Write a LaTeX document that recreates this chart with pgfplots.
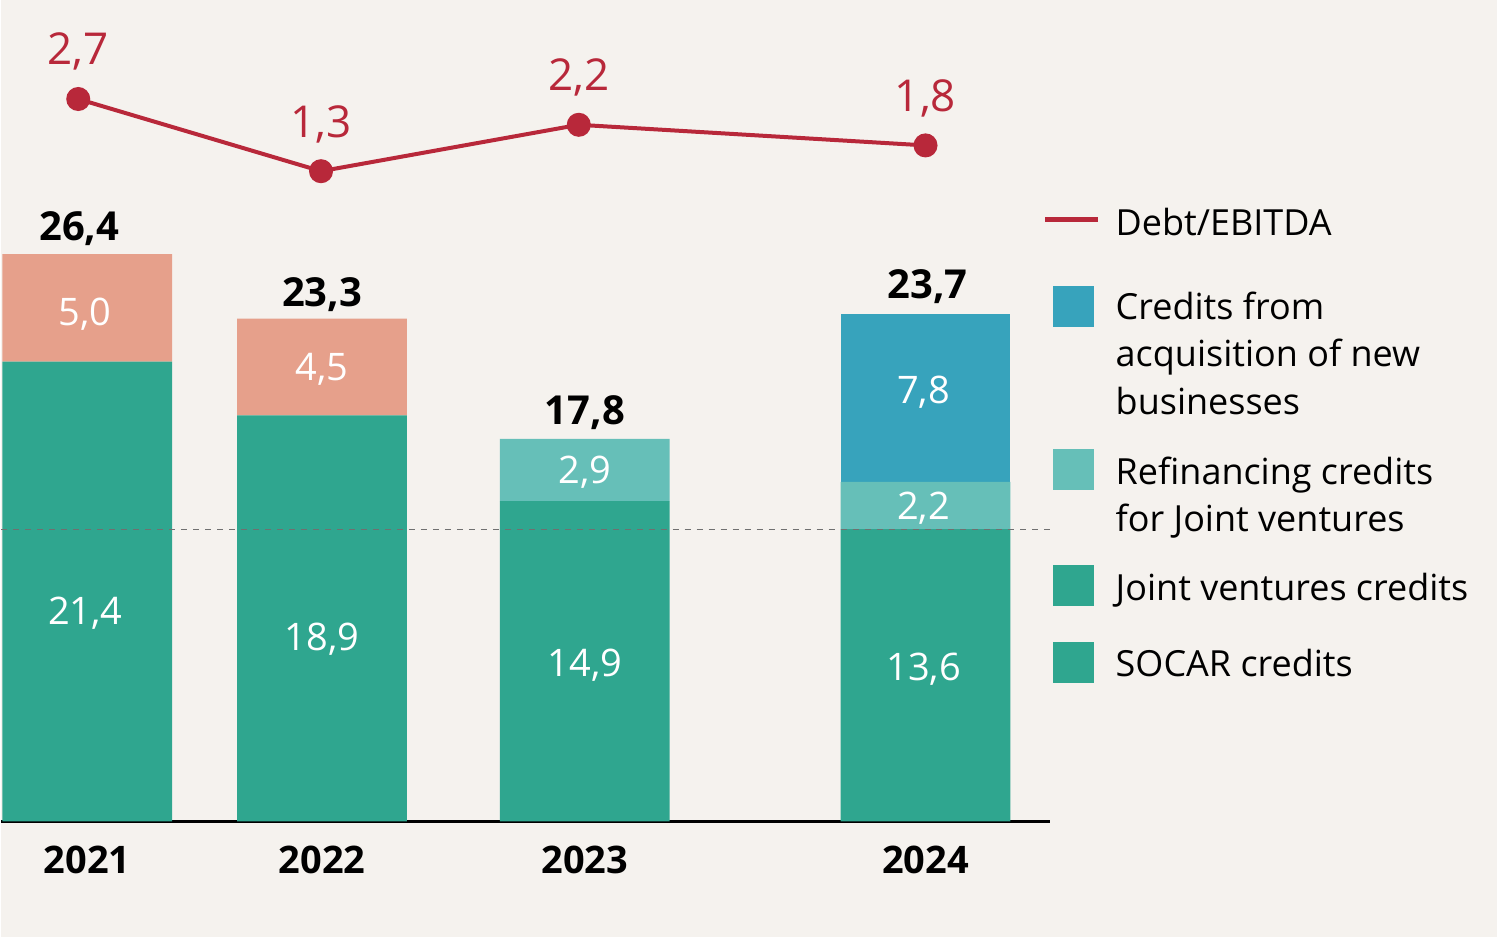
\documentclass[border=0pt]{standalone}
\usepackage{fontspec}
\setmainfont{Open Sans}
\usepackage{pgfplots}
\pgfplotsset{compat=1.18}
\usepackage{pgfplotstable}
\definecolor{bg}{HTML}{F5F2EE}
\definecolor{cgreen}{HTML}{2FA68F}
\definecolor{csalmon}{HTML}{E6A08B}
\definecolor{clteal}{HTML}{66BFB8}
\definecolor{cblue}{HTML}{37A3BC}
\definecolor{cred}{HTML}{B8283A}
\definecolor{cdash}{HTML}{707070}

\pgfplotstableread{
x socar jv refin acq
86 21.4 5.0 0 0
321 18.9 4.5 0 0
584 14.9 0 2.9 0
925 13.6 0 2.2 7.8
}\creditdata

\pgfplotstableread{
x y lab
77 2.7 2,7
320 1.3 1,3
578 2.2 2,2
925 1.8 1,8
}\debtdata

\tikzset{
  seglab/.style={text=white, font=\fontsize{19}{19}\selectfont, text depth=0pt, anchor=center},
  totlab/.style={text=black, font=\bfseries\fontsize{20}{20}\selectfont, anchor=base, yshift=7pt},
  leglab/.style={anchor=base west, inner sep=0pt, font=\fontsize{18}{18}\selectfont, text=black},
}
\pgfplotsset{
  common/.style={at={(0pt,0pt)}, anchor=south west,
  scale only axis, width=525pt, height=411pt,
  xmin=0, xmax=1050, clip=false},
}

\begin{document}
\begin{tikzpicture}
\fill[bg] (0pt,-58pt) rectangle (748.5pt,411pt);
\begin{axis}[
  common, ymin=0, ymax=38.233,
  axis x line*=bottom, axis y line=none,
  x axis line style={-, line width=1.3pt, black},
  xtick={86,321,584,925},
  xticklabels={2021,2022,2023,2024},
  major tick length=0pt,
  xticklabel style={font=\bfseries\fontsize{19}{19}\selectfont, anchor=center, yshift=-19pt, text depth=0pt},
  ytick=\empty,
  ybar stacked, bar width=170,
]
\addplot[fill=cgreen, draw=none] table[x=x,y=socar]{\creditdata};
\addplot[fill=csalmon, draw=none] table[x=x,y=jv]{\creditdata};
\addplot[fill=clteal, draw=none] table[x=x,y=refin]{\creditdata};
\addplot[fill=cblue, draw=none] table[x=x,y=acq]{\creditdata};
\end{axis}

\begin{axis}[common, ymin=0, ymax=38.233, hide axis]
\addplot[cdash, dashed, line width=0.6pt] coordinates {(0,13.6) (1050,13.6)};
\node[seglab] at (axis cs:84,9.8) {21,4};
\node[seglab] at (axis cs:84,23.7) {5,0};
\node[seglab] at (axis cs:321,8.6) {18,9};
\node[seglab] at (axis cs:321,21.15) {4,5};
\node[seglab] at (axis cs:584,7.4) {14,9};
\node[seglab] at (axis cs:584,16.35) {2,9};
\node[seglab] at (axis cs:923,7.2) {13,6};
\node[seglab] at (axis cs:923,14.7) {2,2};
\node[seglab] at (axis cs:923,20.1) {7,8};
\node[totlab] at (axis cs:78,26.4) {26,4};
\node[totlab] at (axis cs:321,23.3) {23,3};
\node[totlab] at (axis cs:584,17.8) {17,8};
\node[totlab] at (axis cs:927,23.7) {23,7};
\end{axis}

\begin{axis}[common, ymin=-11.31, ymax=4.621, hide axis]
\addplot[color=cred, line width=2pt, mark=*, mark size=5pt,
  mark options={fill=cred, draw=cred},
  point meta=explicit symbolic,
  nodes near coords,
  every node near coord/.style={text=cred, font=\fontsize{22}{22}\selectfont, anchor=center, text depth=0pt, yshift=25pt}]
  table[x=x,y=y,meta=lab]{\debtdata};
\end{axis}

% legend
\draw[cred, line width=2.6pt] (522.5pt,301pt) -- (549pt,301pt);
\fill[cblue] (526.5pt,247.5pt) rectangle (547pt,268pt);
\fill[clteal] (526.5pt,166pt) rectangle (547pt,186.5pt);
\fill[cgreen] (526.5pt,107.5pt) rectangle (547pt,128.5pt);
\fill[cgreen] (526.5pt,69pt) rectangle (547pt,89.5pt);
\node[leglab] at (557.5pt,293pt) {Debt/EBITDA};
\node[leglab] at (557.5pt,251pt) {Credits from};
\node[leglab] at (557.5pt,227.5pt) {acquisition of new};
\node[leglab] at (557.5pt,203.5pt) {businesses};
\node[leglab] at (557.5pt,168.5pt) {Refinancing credits};
\node[leglab] at (557.5pt,145pt) {for Joint ventures};
\node[leglab] at (557.5pt,110.5pt) {Joint ventures credits};
\node[leglab] at (557.5pt,72.5pt) {SOCAR credits};
\end{tikzpicture}
\end{document}
